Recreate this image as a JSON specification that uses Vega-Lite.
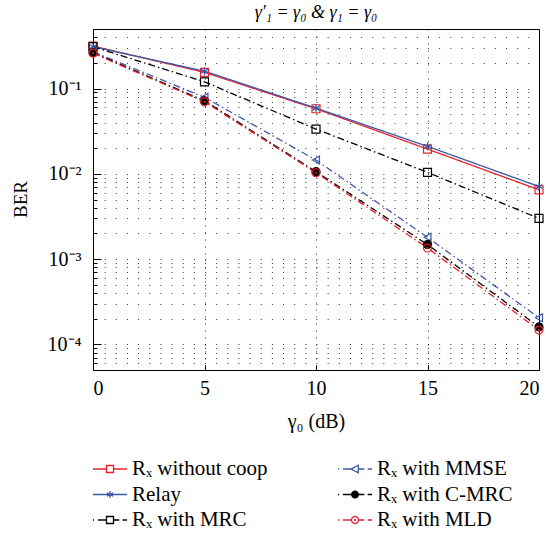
{
  "$schema": "https://vega.github.io/schema/vega-lite/v6.json",
  "autosize": {"type": "none"},
  "width": 446,
  "height": 341,
  "padding": {"left": 93, "top": 29, "right": 10, "bottom": 165},
  "background": "white",
  "config": {
    "view": {"stroke": "black", "strokeWidth": 1},
    "font": "Liberation Serif",
    "axis": {"domainColor": "black", "tickColor": "black", "labelColor": "black", "titleColor": "black", "labelFont": "Liberation Serif", "titleFont": "Liberation Serif", "titleFontWeight": "normal"}
  },
  "title": {"text": "γ′₁ = γ₀ & γ₁ = γ₀", "font": "Liberation Serif", "fontSize": 18, "fontStyle": "italic", "fontWeight": "normal", "offset": 6, "color": "black"},
  "data": {"values": [
    {"x": 0, "ber": 0.315, "series": "Rₓ without coop"},
    {"x": 5, "ber": 0.155, "series": "Rₓ without coop"},
    {"x": 10, "ber": 0.058, "series": "Rₓ without coop"},
    {"x": 15, "ber": 0.0195, "series": "Rₓ without coop"},
    {"x": 20, "ber": 0.0065, "series": "Rₓ without coop"},
    {"x": 0, "ber": 0.31, "series": "Relay"},
    {"x": 5, "ber": 0.16, "series": "Relay"},
    {"x": 10, "ber": 0.059, "series": "Relay"},
    {"x": 15, "ber": 0.021, "series": "Relay"},
    {"x": 20, "ber": 0.0071, "series": "Relay"},
    {"x": 0, "ber": 0.31, "series": "Rₓ with MRC"},
    {"x": 5, "ber": 0.12, "series": "Rₓ with MRC"},
    {"x": 10, "ber": 0.0335, "series": "Rₓ with MRC"},
    {"x": 15, "ber": 0.0104, "series": "Rₓ with MRC"},
    {"x": 20, "ber": 0.0030, "series": "Rₓ with MRC"},
    {"x": 0, "ber": 0.27, "series": "Rₓ with MMSE"},
    {"x": 5, "ber": 0.079, "series": "Rₓ with MMSE"},
    {"x": 10, "ber": 0.0145, "series": "Rₓ with MMSE"},
    {"x": 15, "ber": 0.0018, "series": "Rₓ with MMSE"},
    {"x": 20, "ber": 0.000205, "series": "Rₓ with MMSE"},
    {"x": 0, "ber": 0.265, "series": "Rₓ with C-MRC"},
    {"x": 5, "ber": 0.072, "series": "Rₓ with C-MRC"},
    {"x": 10, "ber": 0.0106, "series": "Rₓ with C-MRC"},
    {"x": 15, "ber": 0.00148, "series": "Rₓ with C-MRC"},
    {"x": 20, "ber": 0.00016, "series": "Rₓ with C-MRC"},
    {"x": 0, "ber": 0.26, "series": "Rₓ with MLD"},
    {"x": 5, "ber": 0.07, "series": "Rₓ with MLD"},
    {"x": 10, "ber": 0.0103, "series": "Rₓ with MLD"},
    {"x": 15, "ber": 0.00135, "series": "Rₓ with MLD"},
    {"x": 20, "ber": 0.000147, "series": "Rₓ with MLD"}
  ]},
  "encoding": {
    "x": {"field": "x", "type": "quantitative", "scale": {"domain": [0, 20], "nice": false},
      "axis": {"values": [0, 5, 10, 15, 20], "title": "γ₀ (dB)", "titleFontSize": 20, "labelFontSize": 20, "tickSize": -5, "labelPadding": 13, "grid": true, "gridDash": [1, 6], "gridColor": "black", "gridOpacity": 0.8, "titleY": 51, "titleBaseline": "middle"}},
    "y": {"field": "ber", "type": "quantitative", "scale": {"type": "log", "domain": [0.00005, 0.5], "nice": false},
      "axis": {"values": [0.00005, 0.00006, 0.00007, 0.00008, 0.00009, 0.0001, 0.0002, 0.0003, 0.0004, 0.0005, 0.0006, 0.0007, 0.0008, 0.0009, 0.001, 0.002, 0.003, 0.004, 0.005, 0.006, 0.007, 0.008, 0.009, 0.01, 0.02, 0.03, 0.04, 0.05, 0.06, 0.07, 0.08, 0.09, 0.1, 0.2, 0.3, 0.4, 0.5],
        "labelExpr": "datum.value == 0.1 ? '10⁻¹' : datum.value == 0.01 ? '10⁻²' : datum.value == 0.001 ? '10⁻³' : datum.value == 0.0001 ? '10⁻⁴' : ''",
        "labelOverlap": false, "labelPadding": 20,
        "labelFontSize": {"condition": {"test": "datum.value == 0.1 || datum.value == 0.01 || datum.value == 0.001 || datum.value == 0.0001", "value": 20}, "value": 1},
        "tickSize": {"condition": {"test": "datum.value == 0.1 || datum.value == 0.01 || datum.value == 0.001 || datum.value == 0.0001", "value": -8}, "value": -4},
        "grid": true, "gridDash": [1, 10.15], "gridColor": "black", "gridOpacity": 0.8,
        "title": "BER", "titleFontSize": 19, "titleX": -73, "titleY": 170, "titleBaseline": "middle", "titleAngle": 270}}
  },
  "layer": [
    {
      "mark": {"type": "line", "strokeWidth": 1.3},
      "encoding": {
        "color": {"field": "series", "type": "nominal",
          "scale": {"domain": ["Rₓ without coop", "Rₓ with MMSE", "Relay", "Rₓ with C-MRC", "Rₓ with MRC", "Rₓ with MLD"],
                    "range": ["#e8202a", "#3b57a8", "#3b57a8", "black", "black", "#e8202a"]},
          "legend": {"title": null, "orient": "none", "legendX": -1, "legendY": 428, "columns": 2, "direction": "horizontal",
            "labelFont": "Liberation Serif", "labelFontSize": 21, "labelColor": "black", "labelLimit": 300,
            "symbolSize": 484, "symbolStrokeWidth": 1.3, "symbolOffset": 6, "labelOffset": 10, "columnPadding": 67, "rowPadding": 3.5,
            "encode": {"symbols": {"update": {
              "shape": {"signal": "datum.value == 'Relay' ? 'M-1.55,0H1.55M0,-0.32V0.32M-0.28,-0.16L0.28,0.16M-0.28,0.16L0.28,-0.16' : datum.value == 'Rₓ without coop' ? 'M-1.55,0H-0.32M0.32,0H1.55M-0.32,-0.32H0.32V0.32H-0.32Z' : datum.value == 'Rₓ with MRC' ? 'M-1.55,0H-1.45M-1.1,0H-0.32M0.32,0H0.85M1.15,0H1.55M-0.32,-0.32H0.32V0.32H-0.32Z' : datum.value == 'Rₓ with MMSE' ? 'M-1.55,0H-1.45M-1.1,0H-0.36M0.3,0H0.85M1.15,0H1.55M-0.36,0L0.3,-0.34V0.34Z' : datum.value == 'Rₓ with C-MRC' ? 'M-1.55,0H-1.45M-1.1,0H-0.3M0.3,0H0.85M1.15,0H1.55M-0.3,0A0.3,0.3 0 1,0 0.3,0A0.3,0.3 0 1,0 -0.3,0Z' : 'M-1.55,0H-1.45M-1.1,0H-0.32M0.32,0H0.85M1.15,0H1.55M-0.32,0A0.32,0.32 0 1,0 0.32,0A0.32,0.32 0 1,0 -0.32,0M-0.04,0A0.04,0.04 0 1,0 0.04,0A0.04,0.04 0 1,0 -0.04,0'"},
              "fill": {"signal": "datum.value == 'Rₓ with C-MRC' ? 'black' : 'transparent'"},
              "strokeDash": {"value": [1, 0]}
            }}}}
        },
        "strokeDash": {"field": "series", "type": "nominal",
          "scale": {"domain": ["Rₓ without coop", "Rₓ with MMSE", "Relay", "Rₓ with C-MRC", "Rₓ with MRC", "Rₓ with MLD"],
                    "range": [[1, 0], [7, 3, 1.5, 3], [1, 0], [7, 3, 1.5, 3], [7, 3, 1.5, 3], [7, 3, 1.5, 3]]},
          "legend": null}
      }
    },
    {
      "mark": {"type": "point", "filled": true, "size": 64, "strokeWidth": 1.2, "opacity": 1},
      "encoding": {
        "stroke": {"field": "series", "type": "nominal",
          "scale": {"domain": ["Rₓ without coop", "Rₓ with MMSE", "Relay", "Rₓ with C-MRC", "Rₓ with MRC", "Rₓ with MLD"],
                    "range": ["#e8202a", "#3b57a8", "#3b57a8", "black", "black", "#e8202a"]},
          "legend": null},
        "fill": {"field": "series", "type": "nominal",
          "scale": {"domain": ["Rₓ without coop", "Rₓ with MMSE", "Relay", "Rₓ with C-MRC", "Rₓ with MRC", "Rₓ with MLD"],
                    "range": ["transparent", "transparent", "transparent", "black", "transparent", "transparent"]},
          "legend": null},
        "shape": {"field": "series", "type": "nominal",
          "scale": {"domain": ["Rₓ without coop", "Rₓ with MMSE", "Relay", "Rₓ with C-MRC", "Rₓ with MRC", "Rₓ with MLD"],
                    "range": ["square", "triangle-left", "M0,-1V1M-0.87,-0.5L0.87,0.5M-0.87,0.5L0.87,-0.5", "circle", "square", "M-1,0A1,1 0 1,0 1,0A1,1 0 1,0 -1,0M-0.12,0A0.12,0.12 0 1,0 0.12,0A0.12,0.12 0 1,0 -0.12,0"]},
          "legend": null}
      }
    }
  ],
  "resolve": {"scale": {"color": "independent"}}
}
